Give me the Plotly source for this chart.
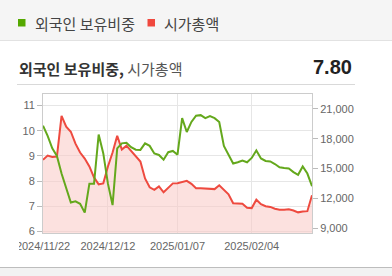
import plotly.graph_objects as go

dates = [
    "2024/11/22", "2024/11/25", "2024/11/26", "2024/11/27", "2024/11/28", "2024/11/29",
    "2024/12/02", "2024/12/03", "2024/12/04", "2024/12/05", "2024/12/06",
    "2024/12/09", "2024/12/10", "2024/12/11", "2024/12/12", "2024/12/13",
    "2024/12/16", "2024/12/17", "2024/12/18", "2024/12/19", "2024/12/20",
    "2024/12/23", "2024/12/24", "2024/12/26", "2024/12/27", "2024/12/30",
    "2025/01/02", "2025/01/03", "2025/01/06", "2025/01/07", "2025/01/08", "2025/01/09", "2025/01/10",
    "2025/01/13", "2025/01/14", "2025/01/15", "2025/01/16", "2025/01/17",
    "2025/01/20", "2025/01/21", "2025/01/22", "2025/01/23", "2025/01/24", "2025/01/31",
    "2025/02/03", "2025/02/04", "2025/02/05", "2025/02/06", "2025/02/07",
    "2025/02/10", "2025/02/11", "2025/02/12", "2025/02/13", "2025/02/14",
    "2025/02/17", "2025/02/18", "2025/02/19", "2025/02/20", "2025/02/21",
]

foreign_ratio = [
    10.2, 9.8, 9.3, 9.0, 8.3, 7.7, 7.15, 7.2, 7.1, 6.75,
    7.9, 7.9, 9.85, 9.1, 7.9, 7.05, 9.3, 9.5, 9.52, 9.35,
    9.25, 9.24, 9.5, 9.4, 9.1, 9.04, 8.85, 9.15, 9.2, 9.05,
    10.5, 9.95, 10.35, 10.6, 10.62, 10.5, 10.58, 10.5, 10.35, 9.4,
    9.05, 8.7, 8.75, 8.82, 8.75, 8.92, 9.22, 8.9, 8.8, 8.78,
    8.68, 8.55, 8.52, 8.5, 8.36, 8.25, 8.58, 8.3, 7.8,
]

market_cap = [
    15870, 16300, 16150, 16200, 20300, 19200, 18700, 17500, 16600, 16000,
    15200, 14100, 13400, 13500, 15200, 16600, 18300, 16900, 17300, 16800,
    16200, 15700, 14000, 13100, 12850, 13200, 12600, 13100, 13500, 13520,
    13600, 13750, 13450, 13000, 13000, 12950, 12920, 12920, 13300, 12850,
    12400, 11500, 11500, 11440, 11050, 11010, 11850, 11400, 11200, 11130,
    10950, 10840, 10850, 10900, 10770, 10580, 10670, 10700, 12300,
]

x_tick_labels = ["2024/11/22", "2024/12/12", "2025/01/07", "2025/02/04"]
left_ticks = [6, 7, 8, 9, 10, 11]
right_ticks = [9000, 12000, 15000, 18000, 21000]

legend_names = ["외국인 보유비중", "시가총액"]
title_bold = "외국인 보유비중,"
title_light = "시가총액"
current_value = "7.80"

GREEN = "#64a81c"
RED = "#ee4a3f"
FONT = "Noto Sans CJK KR, Noto Sans, sans-serif"
TICKFONT = dict(family="Liberation Sans, Arial, sans-serif", size=11, color="#666666")

idx = list(range(len(dates)))
tick_idx = [dates.index(d) for d in x_tick_labels]

fig = go.Figure()
fig.add_trace(go.Scatter(
    x=idx, y=market_cap, mode="lines", yaxis="y",
    line=dict(color=RED, width=2), fill="tozeroy",
    fillcolor="rgba(250,200,196,0.55)", showlegend=False, hoverinfo="skip",
))
fig.add_trace(go.Scatter(
    x=idx, y=foreign_ratio, mode="lines", yaxis="y2",
    line=dict(color=GREEN, width=2), showlegend=False, hoverinfo="skip",
))

fig.update_layout(
    width=392, height=276,
    margin=dict(l=43, r=80, t=94, b=43),
    paper_bgcolor="white", plot_bgcolor="white",
    xaxis=dict(
        range=[0, len(dates) - 1], tickvals=tick_idx, ticktext=x_tick_labels,
        showgrid=True, gridcolor="#e6e6e6", mirror=True, ticks="", ticklabelstandoff=3,
        tickfont=TICKFONT, showline=True, linecolor="#cccccc", linewidth=1, zeroline=False,
    ),
    yaxis=dict(
        side="right", range=[8500, 22500], tickvals=right_ticks, tickformat=",",
        showgrid=False, ticks="outside", ticklen=5, tickcolor="#bbbbbb", tickfont=TICKFONT,
        showline=True, linecolor="#cccccc", linewidth=1, zeroline=False,
    ),
    yaxis2=dict(
        side="left", overlaying="y", range=[5.94, 11.46], tickvals=left_ticks,
        showgrid=True, gridcolor="#e6e6e6", ticks="outside", ticklen=5, tickcolor="#bbbbbb",
        tickfont=TICKFONT, showline=True, linecolor="#cccccc", linewidth=1, zeroline=False,
    ),
    font=dict(family=FONT),
)

W, H = 392, 276
L, R, T, B = 43, 312, 94, 233
pw, ph = R - L, B - T


def px(x):
    return (x - L) / pw


def py(y):
    return (B - y) / ph


shapes = [
    dict(type="rect", xref="paper", yref="paper", x0=px(0), x1=px(W), y0=py(40), y1=py(0),
         fillcolor="#f5f5f5", line=dict(width=0), layer="below"),
    dict(type="line", xref="paper", yref="paper", x0=px(0), x1=px(W), y0=py(40.5), y1=py(40.5),
         line=dict(color="#e2e2e2", width=1)),
    dict(type="line", xref="paper", yref="paper", x0=px(17), x1=px(355), y0=py(84.5), y1=py(84.5),
         line=dict(color="#d9d9d9", width=1)),
    dict(type="rect", xref="paper", yref="paper", x0=px(0), x1=px(W), y0=py(276), y1=py(268),
         fillcolor="#f2f2f2", line=dict(width=0), layer="above"),
    dict(type="line", xref="paper", yref="paper", x0=px(0), x1=px(W), y0=py(267.5), y1=py(267.5),
         line=dict(color="#bdbdbd", width=1)),
    dict(type="rect", xref="paper", yref="paper", x0=px(0), x1=px(19), y0=py(258), y1=py(237),
         fillcolor="white", line=dict(width=0), layer="above"),
    dict(type="rect", xref="paper", yref="paper", x0=px(18), x1=px(25.5), y0=py(26.5), y1=py(19),
         fillcolor="#55a800", line=dict(width=0)),
    dict(type="rect", xref="paper", yref="paper", x0=px(147.5), x1=px(155), y0=py(26.5), y1=py(19),
         fillcolor="#f0483e", line=dict(width=0)),
]

annotations = [
    dict(text=legend_names[0], xref="paper", yref="paper", x=px(33), y=py(23), xanchor="left",
         yanchor="middle", showarrow=False, font=dict(family=FONT, size=15, color="#444444")),
    dict(text=legend_names[1], xref="paper", yref="paper", x=px(162), y=py(23), xanchor="left",
         yanchor="middle", showarrow=False, font=dict(family=FONT, size=15, color="#444444")),
    dict(text=f"<b>{title_bold}</b> <span style='color:#555555'>{title_light}</span>",
         xref="paper", yref="paper", x=px(17), y=py(68), xanchor="left", yanchor="middle",
         showarrow=False, font=dict(family=FONT, size=15, color="#333333")),
    dict(text=f"<b>{current_value}</b>", xref="paper", yref="paper", x=px(354), y=py(67),
         xanchor="right", yanchor="middle", showarrow=False,
         font=dict(family="Liberation Sans, Arial, sans-serif", size=20, color="#222222")),
]

fig.update_layout(shapes=shapes, annotations=annotations)
fig.write_html("out.html")
